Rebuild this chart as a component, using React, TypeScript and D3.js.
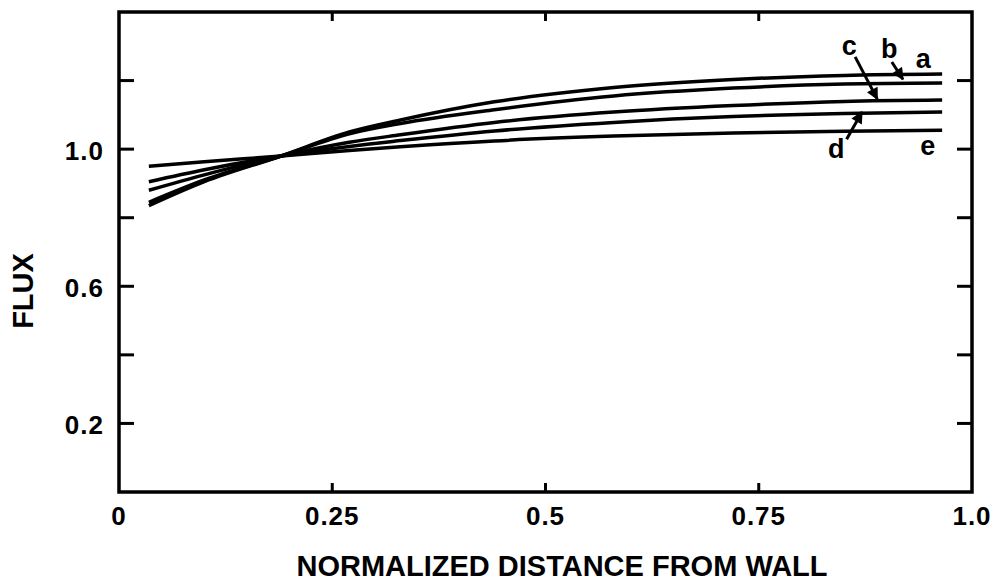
import * as d3 from "d3";

// distance from wall (normalized)
const xs = [0.035, 0.1, 0.19, 0.27, 0.33, 0.44, 0.58, 0.72, 0.85, 0.965];

// flux curves a..e
const fluxA = [0.835, 0.905, 0.98, 1.05, 1.085, 1.138, 1.18, 1.203, 1.215, 1.219];
const fluxB = [0.845, 0.91, 0.98, 1.045, 1.075, 1.115, 1.155, 1.178, 1.19, 1.193];
const fluxC = [0.88, 0.925, 0.98, 1.02, 1.042, 1.078, 1.108, 1.127, 1.139, 1.143];
const fluxD = [0.905, 0.94, 0.98, 1.008, 1.025, 1.053, 1.078, 1.095, 1.104, 1.108];
const fluxE = [0.95, 0.963, 0.98, 0.996, 1.007, 1.024, 1.038, 1.047, 1.052, 1.055];

const xTickLabels = ["0", "0.25", "0.5", "0.75", "1.0"];
const xTicks = [0, 0.25, 0.5, 0.75, 1.0];
const yTicks = [0.2, 0.4, 0.6, 0.8, 1.0, 1.2];
const yLabelled = [0.2, 0.6, 1.0];

// curve labels + arrows, in data units
const labelNames = ["a", "b", "c", "d", "e"];
const labelX = [0.943, 0.903, 0.856, 0.841, 0.948];
const labelY = [1.263, 1.292, 1.301, 1.0, 1.009];
const arrows = [
  { from: [0.906, 1.254], to: [0.919, 1.204] },
  { from: [0.863, 1.269], to: [0.889, 1.146] },
  { from: [0.853, 1.029], to: [0.871, 1.108] },
];

export default function App() {
  const width = 993;
  const height = 583;
  const m = { top: 12, right: 21, bottom: 91, left: 119 };

  const x = d3.scaleLinear().domain([0, 1]).range([m.left, width - m.right]);
  const y = d3.scaleLinear().domain([0, 1.4]).range([height - m.bottom, m.top]);

  const line = d3
    .line<[number, number]>()
    .x((d) => x(d[0]))
    .y((d) => y(d[1]))
    .curve(d3.curveMonotoneX);

  const series = [fluxA, fluxB, fluxC, fluxD, fluxE];
  const font = "'Liberation Sans', Arial, Helvetica, sans-serif";
  const x0 = x(0), x1 = x(1), yTop = y(1.4), yBot = y(0);

  return (
    <svg
      width={width}
      height={height}
      style={{ position: "absolute", left: 0, top: 0, background: "#fff" }}
      fontFamily={font}
      fontWeight="bold"
    >
      <defs>
        <marker id="head" viewBox="0 0 10 10" refX="9" refY="5" markerWidth="5" markerHeight="4" orient="auto">
          <path d="M0,0 L10,5 L0,10 z" fill="#000" />
        </marker>
      </defs>

      {/* frame */}
      <rect x={x0} y={yTop} width={x1 - x0} height={yBot - yTop} fill="none" stroke="#000" strokeWidth={3.5} />

      {/* ticks */}
      {yTicks.map((t) => (
        <g key={"y" + t}>
          <line x1={x0} x2={x0 + 15} y1={y(t)} y2={y(t)} stroke="#000" strokeWidth={3} />
          <line x1={x1} x2={x1 - 15} y1={y(t)} y2={y(t)} stroke="#000" strokeWidth={3} />
        </g>
      ))}
      {xTicks.slice(1, 4).map((t) => (
        <g key={"x" + t}>
          <line x1={x(t)} x2={x(t)} y1={yBot} y2={yBot - 9} stroke="#000" strokeWidth={3} />
          <line x1={x(t)} x2={x(t)} y1={yTop} y2={yTop + 9} stroke="#000" strokeWidth={3} />
        </g>
      ))}

      {/* tick labels */}
      {yLabelled.map((t) => (
        <text key={"yl" + t} x={x0 - 15} y={y(t) + 4} fontSize={26} textAnchor="end" dominantBaseline="middle" letterSpacing={1}>
          {t.toFixed(1)}
        </text>
      ))}
      {xTicks.map((t, i) => (
        <text key={"xl" + t} x={x(t)} y={yBot + 26} fontSize={26} textAnchor="middle" dominantBaseline="middle" letterSpacing={1}>
          {xTickLabels[i]}
        </text>
      ))}

      {/* axis titles */}
      <text x={562} y={576} fontSize={29} textAnchor="middle">
        NORMALIZED DISTANCE FROM WALL
      </text>
      <text transform={`translate(33,${291}) rotate(-90)`} fontSize={29} textAnchor="middle">
        FLUX
      </text>

      {/* curves */}
      {series.map((s, i) => (
        <path
          key={"s" + i}
          d={line(xs.map((v, j) => [v, s[j]] as [number, number])) || ""}
          fill="none"
          stroke="#000"
          strokeWidth={3.5}
        />
      ))}

      {/* curve labels */}
      {labelNames.map((n, i) => (
        <text key={"lb" + n} x={x(labelX[i])} y={y(labelY[i])} fontSize={27} textAnchor="middle" dominantBaseline="central">
          {n}
        </text>
      ))}
      {arrows.map((a, i) => (
        <line
          key={"ar" + i}
          x1={x(a.from[0])}
          y1={y(a.from[1])}
          x2={x(a.to[0])}
          y2={y(a.to[1])}
          stroke="#000"
          strokeWidth={3}
          markerEnd="url(#head)"
        />
      ))}
    </svg>
  );
}
